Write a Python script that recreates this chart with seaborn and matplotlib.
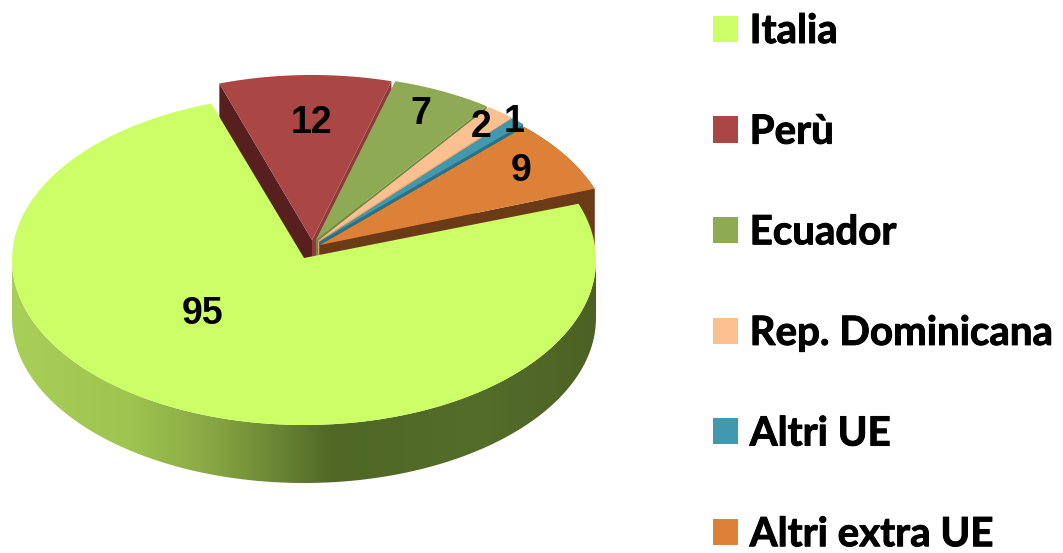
import numpy as np
import matplotlib
matplotlib.use("Agg")
import matplotlib.pyplot as plt
from matplotlib.colors import LinearSegmentedColormap
from matplotlib.patches import Patch, Polygon
import matplotlib.patheffects as pe
import seaborn as sns

# Data
categories = ["Italia", "Perù", "Ecuador", "Rep. Dominicana", "Altri UE", "Altri extra UE"]
values = [95, 12, 7, 2, 1, 9]

sns.set_theme(style="white")
palette = sns.color_palette(["#CCFF66", "#AA4644", "#8FAA54", "#FAC090", "#4198AF", "#DD8139"])
wall_colors = [None, "#571f1e", "#6f8a3e", "#d9a377", "#2b7186", "#6b3a17"]
end_wall_colors = [None, "#8f3b3a", "#6f8a3e", "#d9a377", "#2b7186", "#6b3a17"]

# Pie geometry, in picture pixels
CX, CY = 304, 260
RX, RY = 292, 165
DEPTH = 58
START = -18.5
# slices other than Italia are pulled back from the centre
offsets = [(0, 0), (8, -20), (12, -20), (14, -19), (15, -18), (16, -15)]
label_pos = [(203, 314), (311, 123), (421, 114), (481, 127), (514, 122), (521, 171)]

fig = plt.figure(figsize=(10.63, 5.53), dpi=100)
ax = fig.add_axes([0, 0, 1, 1])
ax.set_xlim(0, 1063)
ax.set_ylim(553, 0)
ax.axis("off")


def rim(a0, a1, ox=0, oy=0, drop=0, n=200):
    t = np.radians(np.linspace(a0, a1, n))
    return np.column_stack([CX + ox + RX * np.sin(t), CY + oy - RY * np.cos(t) + drop])


# angles of each slice, clockwise from the top, Perù first and Italia closing the circle
order = [1, 2, 3, 4, 5, 0]
angle = START
spans = {}
for i in order:
    step = 360 * values[i] / sum(values)
    spans[i] = (angle, angle + step)
    angle += step

# the pulled slices, back to front
for i in order[:-1]:
    a0, a1 = spans[i]
    ox, oy = offsets[i]
    apex = np.array([[CX + ox, CY + oy]])
    outer = rim(a0, a1, ox, oy)
    start_wall = np.vstack([apex, outer[:1], outer[:1] + [0, DEPTH], apex + [0, DEPTH]])
    end_wall = np.vstack([apex, outer[-1:], outer[-1:] + [0, DEPTH], apex + [0, DEPTH]])
    ax.add_patch(Polygon(start_wall, closed=True, fc=wall_colors[i], ec="none", zorder=2))
    ax.add_patch(Polygon(end_wall, closed=True, fc=end_wall_colors[i], ec="none", zorder=2))
    # only the slice running round to the side shows its outer wall
    if a1 > 60:
        arc_wall = np.vstack([outer, (outer + [0, DEPTH])[::-1]])
        ax.add_patch(Polygon(arc_wall, closed=True, fc=wall_colors[i], ec="none", zorder=2))
    ax.add_patch(Polygon(np.vstack([apex, outer]), closed=True, fc=palette[i], ec="none", zorder=2))

# side of Italia with its left to right shading
side_cmap = LinearSegmentedColormap.from_list("side", [
    (0.00, "#a8cf58"), (0.20, "#9fc44f"), (0.33, "#8aaa45"), (0.44, "#6e8a36"),
    (0.55, "#506726"), (0.80, "#546d2a"), (1.00, "#4c6224")])
a0, a1 = spans[0]
front = rim(90, 270)
side = np.vstack([front, (front + [0, DEPTH])[::-1]])
clip = Polygon(side, closed=True, fc="none", ec="none", transform=ax.transData)
ax.add_patch(clip)
img = ax.imshow(np.linspace(0, 1, 256)[None, :], cmap=side_cmap, aspect="auto", zorder=3,
                extent=(CX - RX, CX + RX, 553, 0))
img.set_clip_path(clip)
ax.set_xlim(0, 1063)
ax.set_ylim(553, 0)

# top of Italia
ax.add_patch(Polygon(np.vstack([[[CX, CY - 2]], rim(a0, a1)]), closed=True, fc=palette[0], ec="none", zorder=4))

for (x, y), v in zip(label_pos, values):
    ax.text(x, y, str(v), ha="center", va="center", fontsize=27, fontweight="bold",
            family="Liberation Sans", color="black", zorder=6)

handles = [Patch(fc=c, ec="none", label=n) for c, n in zip(palette, categories)]
leg = ax.legend(handles=handles, loc="upper left", bbox_to_anchor=(713, 13), bbox_transform=ax.transData,
                frameon=False, borderpad=0, borderaxespad=0, handlelength=0.62, handleheight=0.62,
                handletextpad=0.29, labelspacing=1.58,
                prop={"family": "Lato", "weight": "bold", "size": 29})
for t in leg.get_texts():
    t.set_color("black")
    t.set_path_effects([pe.withStroke(linewidth=0.7, foreground="black")])

fig.savefig("out.png", dpi=100)
